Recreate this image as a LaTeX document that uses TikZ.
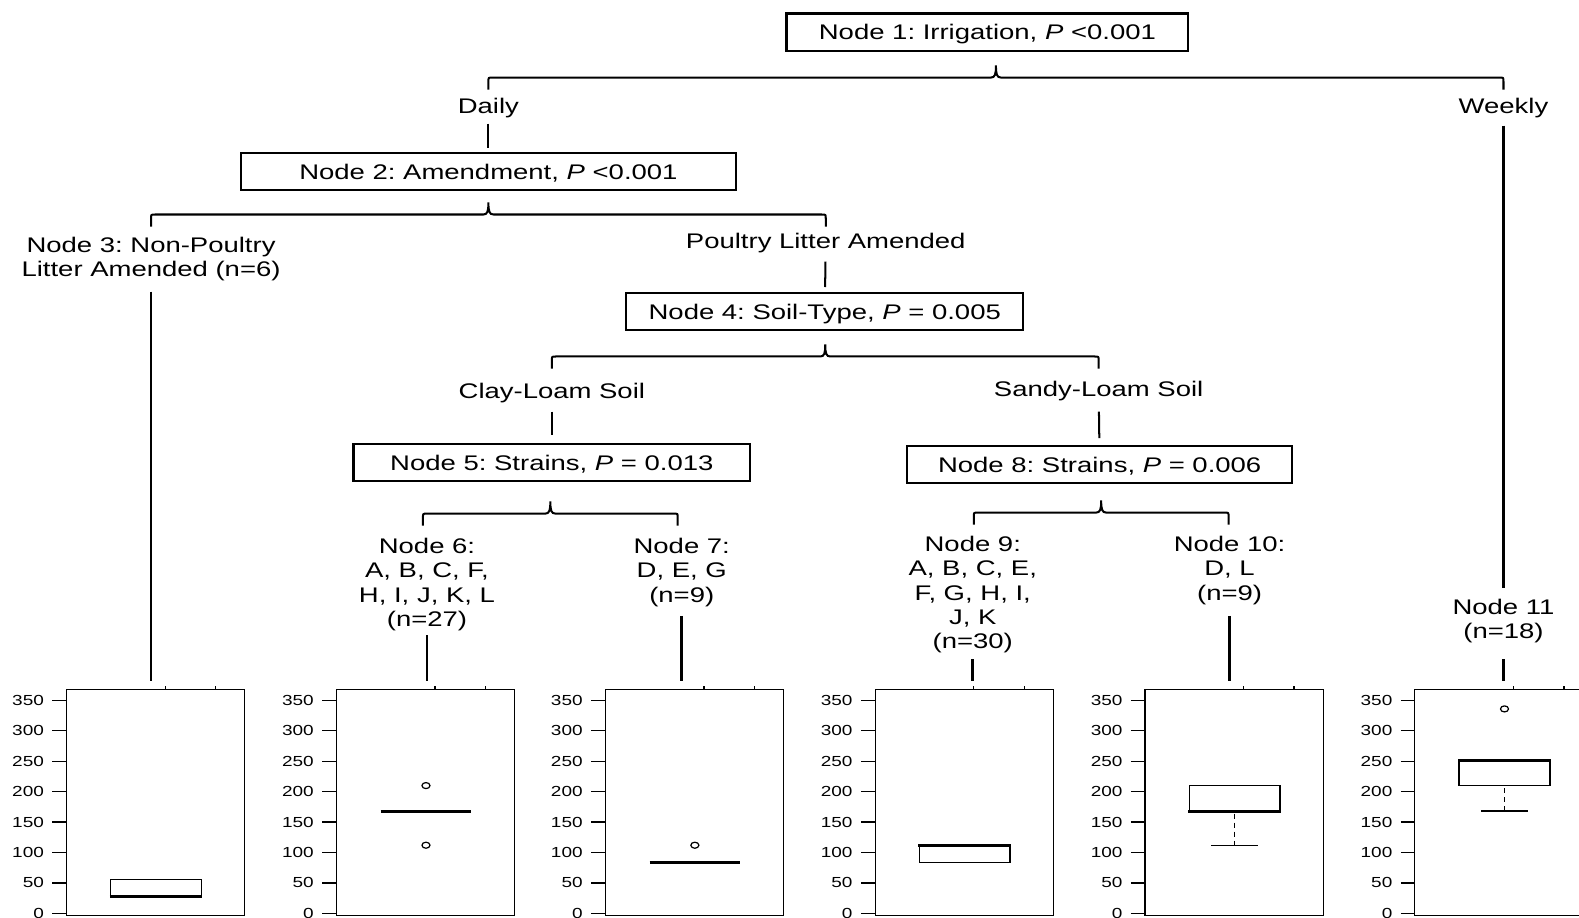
\documentclass[tikz,border=0pt]{standalone}
\usepackage{fontspec}
\setmainfont{Liberation Sans}[FakeStretch=1.3]
\frenchspacing
\newcommand\labfont{\fontsize{10.5}{12}\selectfont}
\newcommand\axisfont{\fontsize{7.25}{8}\selectfont}
\newcommand\yv[1]{907-0.6043*#1}
\tikzset{
  conn/.style={line width=1pt},
  leaf/.style={line width=1.4pt},
  brc/.style={line width=1pt},
  split/.style={draw, line width=1.1pt, inner sep=0pt, outer sep=0pt, minimum height=18.5pt, text depth=0pt, font=\labfont},
  lab/.style={inner sep=0pt, align=center, font=\labfont, yshift=-0.75pt},
  frame/.style={draw, line width=0.6pt, inner sep=0pt, outer sep=0pt, minimum width=88.5pt, minimum height=112pt},
  axl/.style={font=\axisfont, anchor=east, inner sep=0pt},
  tick/.style={line width=0.6pt},
  med/.style={line width=1.5pt},
  bx/.style={line width=0.7pt},
  whisk/.style={line width=0.7pt, dash pattern=on 2.5pt off 2pt},
  outl/.style={line width=0.6pt},
}
\newcommand\treebrace[3]{%
  \pgfmathsetmacro\bm{(#1+#2)/2}%
  \draw[brc] (#1,#3+12) -- (#1,#3+4) .. controls (#1,#3) .. (#1+4,#3)
    -- (\bm-5,#3) .. controls (\bm-1,#3) and (\bm,#3-3) .. (\bm,#3-12)
    .. controls (\bm,#3-3) and (\bm+1,#3) .. (\bm+5,#3)
    -- (#2-4,#3) .. controls (#2,#3) .. (#2,#3+4) -- (#2,#3+12);}
\newcommand\bplot[2]{%
  \node[frame] (#1) at ({#2+88.5},797) {};
  \foreach \v in {0,50,...,350}{%
    \draw[tick] ({#2-14},{\yv{\v}}) -- ({#2},{\yv{\v}});
    \node[axl] at ({#2-22},{\yv{\v}}) {\v};}
  \draw[tick] ({#2+98},685) -- ({#2+98},681);
  \draw[tick] ({#2+148},685) -- ({#2+148},681);}
\begin{document}
\begin{tikzpicture}[x=0.5pt,y=-0.5pt]
\useasboundingbox (0,0) rectangle (1568,911);
\clip (0,0) rectangle (1568,911);
\fill[white] (0,0) rectangle (1568,911);

% split nodes
\node[split, minimum width=199.5pt] (n1) at (980.5,32) {Node 1: Irrigation, \textit{P} <0.001};
\node[split, minimum width=246pt] (n2) at (485,170.5) {Node 2: Amendment, \textit{P} <0.001};
\node[split, minimum width=197pt] (n4) at (819,309.5) {Node 4: Soil-Type, \textit{P} = 0.005};
\node[split, minimum width=197pt] (n5) at (548,459.5) {Node 5: Strains, \textit{P} = 0.013};
\node[split, minimum width=191pt] (n8) at (1092,461.5) {Node 8: Strains, \textit{P} = 0.006};

% branch labels
\node[lab] (daily) at (485,106) {Daily};
\node[lab] (weekly) at (1493,106) {Weekly};
\node[lab] (poultry) at (820,240) {Poultry Litter Amended};
\node[lab] (clay) at (548,389) {Clay-Loam Soil};
\node[lab] (sandy) at (1091,387) {Sandy-Loam Soil};

% terminal labels
\node[lab] (n3) at (150,256) {Node 3: Non-Poultry\\Litter Amended (n=6)};
\node[lab] (n6) at (424,579) {Node 6:\\A, B, C, F,\\H, I, J, K, L\\(n=27)};
\node[lab] (n7) at (677,567) {Node 7:\\D, E, G\\(n=9)};
\node[lab] (n9) at (966,589) {Node 9:\\A, B, C, E,\\F, G, H, I,\\J, K\\(n=30)};
\node[lab] (n10) at (1221,565) {Node 10:\\D, L\\(n=9)};
\node[lab] (n11) at (1493,615) {Node 11\\(n=18)};

% braces
\treebrace{485}{1493}{77}
\treebrace{150}{820}{213}
\treebrace{548}{1091}{354}
\treebrace{420}{673}{510}
\treebrace{967}{1220}{509}

% connectors label -> split node
\draw[conn, shorten <=2.5pt, shorten >=2.5pt] (daily) -- (n2);
\draw[conn, shorten <=4pt, shorten >=3pt] (poultry) -- (n4);
\draw[conn, shorten <=4pt, shorten >=4.5pt] (clay) -- (n5);
\draw[conn, shorten <=5pt, shorten >=4pt] (sandy) -- (n8);
\draw[conn, shorten <=3.5pt, shorten >=5pt] (weekly) -- (n11);

% plots
\bplot{p1}{66}
\bplot{p2}{334}
\bplot{p3}{601}
\bplot{p4}{869}
\bplot{p5}{1137}
\bplot{p6}{1405}

% leaf connectors
\draw[leaf, shorten <=5pt, shorten >=4.5pt] (n3) -- (n3 |- p1.north);
\draw[leaf, shorten <=2pt, shorten >=4.5pt] (n6) -- (n6 |- p2.north);
\draw[leaf, shorten <=4.5pt, shorten >=4.5pt] (n7) -- (n7 |- p3.north);
\draw[leaf, shorten <=3pt, shorten >=4.5pt] (n9) -- (n9 |- p4.north);
\draw[leaf, shorten <=5.5pt, shorten >=4.5pt] (n10) -- (n10 |- p5.north);
\draw[leaf, shorten <=8pt, shorten >=4.5pt] (n11) -- (n11 |- p6.north);

% plot 1
\draw[bx] (110,{\yv{28}}) rectangle (200,{\yv{56}});
\draw[med] (109,{\yv{28}}) -- (201,{\yv{28}});
% plot 2
\draw[med] (378,{\yv{168}}) -- (468,{\yv{168}});
\draw[outl] (423,{\yv{210}}) ellipse [x radius=2pt, y radius=1.5pt];
\draw[outl] (423,{\yv{112}}) ellipse [x radius=2pt, y radius=1.5pt];
% plot 3
\draw[med] (645,{\yv{84}}) -- (735,{\yv{84}});
\draw[outl] (690,{\yv{112}}) ellipse [x radius=2pt, y radius=1.5pt];
% plot 4
\draw[bx] (913,{\yv{84}}) rectangle (1003,{\yv{112}});
\draw[med] (912,{\yv{112}}) -- (1004,{\yv{112}});
% plot 5
\draw[whisk] (1226,{\yv{164}}) -- (1226,{\yv{112}});
\draw[bx] (1203,{\yv{112}}) -- (1249,{\yv{112}});
\draw[bx] (1181,{\yv{168}}) rectangle (1271,{\yv{210}});
\draw[med] (1180,{\yv{168}}) -- (1272,{\yv{168}});
% plot 6
\draw[whisk] (1494,{\yv{206}}) -- (1494,{\yv{168}});
\draw[bx] (1471,{\yv{168}}) -- (1517,{\yv{168}});
\draw[bx] (1449,{\yv{210}}) rectangle (1539,{\yv{252}});
\draw[med] (1448,{\yv{252}}) -- (1540,{\yv{252}});
\draw[outl] (1494,{\yv{336}}) ellipse [x radius=2pt, y radius=1.5pt];
\end{tikzpicture}
\end{document}
